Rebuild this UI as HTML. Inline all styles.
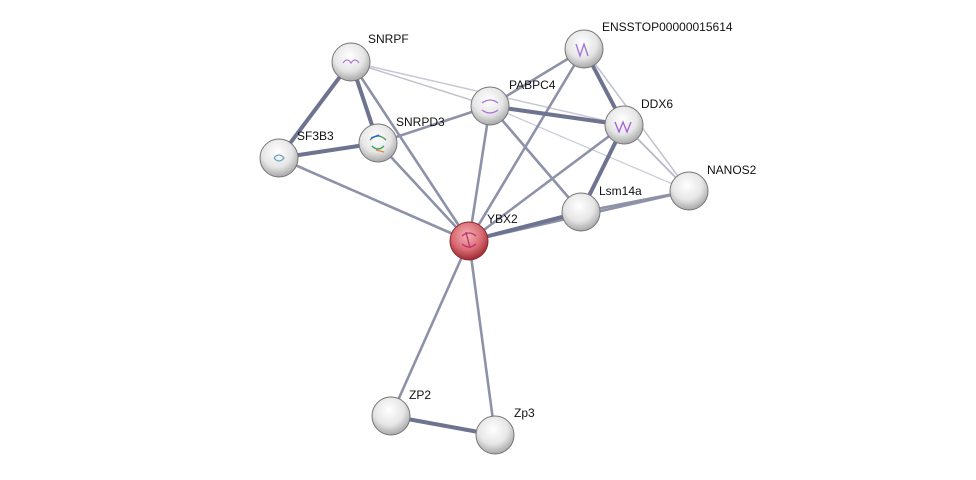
<!DOCTYPE html>
<html><head><meta charset="utf-8"><style>
html,body{margin:0;padding:0;background:#fff;}
svg{display:block}
text{font-family:"Liberation Sans",sans-serif;font-size:12px;fill:#111}
</style></head><body>
<svg width="976" height="480" viewBox="0 0 976 480" xmlns="http://www.w3.org/2000/svg">
<defs>
<radialGradient id="g" cx="45%" cy="35%" r="65%">
<stop offset="0" stop-color="#ffffff"/><stop offset="0.6" stop-color="#e6e6e6"/><stop offset="1" stop-color="#a8a8a8"/>
</radialGradient>
<radialGradient id="r" cx="45%" cy="35%" r="65%">
<stop offset="0" stop-color="#f2b4b8"/><stop offset="0.6" stop-color="#d96a72"/><stop offset="1" stop-color="#9e2a33"/>
</radialGradient>
</defs>
<g stroke-linecap="round">
<line x1="351" y1="62" x2="624" y2="125" stroke="#c8c9d6" stroke-width="1.5"/>
<line x1="351" y1="62" x2="490" y2="106" stroke="#c0c2d0" stroke-width="1.5"/>
<line x1="584" y1="49" x2="689" y2="191" stroke="#c0c2d0" stroke-width="1.5"/>
<line x1="624" y1="125" x2="689" y2="191" stroke="#b8bacb" stroke-width="1.8"/>
<line x1="490" y1="106" x2="689" y2="191" stroke="#c8c9d6" stroke-width="1.2"/>
<g stroke="#8e92a8" stroke-width="2.6">
<line x1="351" y1="62" x2="469" y2="241"/>
<line x1="378" y1="143" x2="469" y2="241"/>
<line x1="279" y1="158" x2="469" y2="241"/>
<line x1="378" y1="143" x2="490" y2="106"/>
<line x1="490" y1="106" x2="469" y2="241"/>
<line x1="490" y1="106" x2="584" y2="49"/>
<line x1="490" y1="106" x2="581" y2="212"/>
<line x1="584" y1="49" x2="469" y2="241"/>
<line x1="624" y1="125" x2="469" y2="241"/>
<line x1="581" y1="212" x2="689" y2="191"/>
<line x1="469" y1="241" x2="689" y2="191"/>
<line x1="469" y1="241" x2="391" y2="416"/>
<line x1="469" y1="241" x2="495" y2="435"/>
</g>
<g stroke="#6e7390" stroke-width="4">
<line x1="351" y1="62" x2="279" y2="158"/>
<line x1="351" y1="62" x2="378" y2="143"/>
<line x1="279" y1="158" x2="378" y2="143"/>
<line x1="490" y1="106" x2="624" y2="125"/>
<line x1="584" y1="49" x2="624" y2="125"/>
<line x1="624" y1="125" x2="581" y2="212"/>
<line x1="581" y1="212" x2="469" y2="241"/>
<line x1="391" y1="416" x2="495" y2="435"/>
</g>
</g>
<g stroke="#777" stroke-width="1">
<circle cx="351" cy="62" r="19" fill="url(#g)"/>
<circle cx="279" cy="158" r="19" fill="url(#g)"/>
<circle cx="378" cy="143" r="19" fill="url(#g)"/>
<circle cx="490" cy="106" r="19" fill="url(#g)"/>
<circle cx="584" cy="49" r="19" fill="url(#g)"/>
<circle cx="624" cy="125" r="19" fill="url(#g)"/>
<circle cx="689" cy="191" r="19" fill="url(#g)"/>
<circle cx="581" cy="212" r="19" fill="url(#g)"/>
<circle cx="469" cy="241" r="19" fill="url(#r)" stroke="#8a2a30"/>
<circle cx="391" cy="416" r="19" fill="url(#g)"/>
<circle cx="495" cy="435" r="19" fill="url(#g)"/>
</g>
<g fill="none" stroke-width="1.3">
<path d="M343 63 q4 -6 8 0 q4 -6 8 0" stroke="#b07ad8"/>
<path d="M370 140 q8 -8 16 0 M372 146 q6 6 12 0" stroke="#3aa060"/>
<path d="M371 138 l8 -3" stroke="#3060e0"/>
<path d="M376 150 l8 2" stroke="#e08a30"/>
<path d="M274 158 q5 -6 10 0 q-5 6 -10 0" stroke="#6aa0c0"/>
<path d="M482 103 q8 -6 16 0 M482 110 q8 6 16 0" stroke="#b070d8"/>
<path d="M576 44 l4 12 l4 -12 l4 12" stroke="#a070d8"/>
<path d="M615 122 l4 10 l4 -10 l4 10 l4 -10" stroke="#a060d8"/>
<path d="M462 236 q7 -6 14 0 M462 244 q7 6 14 0 M466 232 l4 16" stroke="#c0306a"/>
</g>
<text x="368" y="43">SNRPF</text>
<text x="297" y="140">SF3B3</text>
<text x="396" y="126">SNRPD3</text>
<text x="509" y="89">PABPC4</text>
<rect x="600" y="20" width="136" height="14" fill="#fff" opacity="0.9"/>
<text x="602" y="31">ENSSTOP00000015614</text>
<text x="641" y="108">DDX6</text>
<text x="707" y="174">NANOS2</text>
<text x="599" y="195">Lsm14a</text>
<text x="487" y="223">YBX2</text>
<text x="409" y="399">ZP2</text>
<text x="514" y="417">Zp3</text>
</svg>
</body></html>
